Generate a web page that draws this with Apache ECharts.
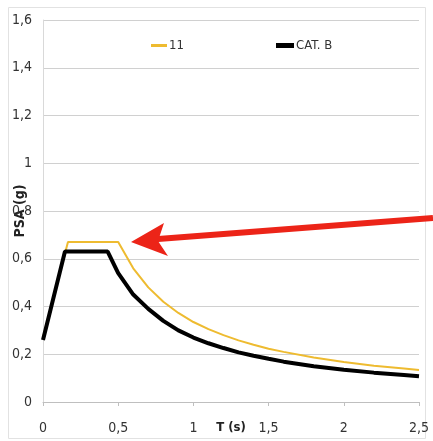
<!DOCTYPE html>
<html><head><meta charset="utf-8">
<script src="https://cdn.jsdelivr.net/npm/echarts@6/dist/echarts.min.js"></script>
<style>html,body{margin:0;padding:0;background:#fff}#c{width:433px;height:441px}</style>
</head><body><div id="c"></div>
<script>
// Data
const periods11 = [0, 0.166, 0.5, 0.6, 0.7, 0.8, 0.9, 1.0, 1.1, 1.2, 1.3, 1.4, 1.5, 1.6, 1.8, 2.0, 2.2, 2.4, 2.5];
const psa11     = [0.27, 0.67, 0.67, 0.56, 0.48, 0.42, 0.373, 0.335, 0.305, 0.28, 0.258, 0.24, 0.223, 0.21, 0.186, 0.168, 0.152, 0.14, 0.134];
const periodsB  = [0, 0.146, 0.43, 0.5, 0.6, 0.7, 0.8, 0.9, 1.0, 1.1, 1.2, 1.3, 1.4, 1.5, 1.6, 1.8, 2.0, 2.2, 2.4, 2.5];
const psaB      = [0.26, 0.63, 0.63, 0.54, 0.45, 0.39, 0.34, 0.30, 0.27, 0.246, 0.226, 0.208, 0.194, 0.181, 0.169, 0.150, 0.135, 0.123, 0.113, 0.108];
const seriesNames = ['11', 'CAT. B'];
const xTicks = [0, 0.5, 1, 1.5, 2, 2.5];
const yTicks = [0, 0.2, 0.4, 0.6, 0.8, 1, 1.2, 1.4, 1.6];

const FONT = '"Liberation Sans Narrow", "DejaVu Sans Condensed", "Liberation Sans", sans-serif';
const fmt = v => String(+(+v).toFixed(1)).replace('.', ',');
const pair = (xs, ys) => xs.map((x, i) => [x, ys[i]]);
const YEL = '#eebb30';

const chart = echarts.init(document.getElementById('c'));
chart.setOption({
  animation: false,
  backgroundColor: '#fff',
  grid: { left: 43, right: 14, top: 20, bottom: 39, containLabel: false, outerBoundsMode: 'none' },
  legend: [
    { top: 34, left: 146, itemWidth: 16, itemHeight: 3, icon: 'rect',
      textStyle: { fontFamily: FONT, fontSize: 13, color: '#333', padding: [0, 0, 0, -3] },
      data: [{ name: seriesNames[0], itemStyle: { color: YEL } }] },
    { top: 34, left: 271, itemWidth: 18, itemHeight: 5, icon: 'rect',
      textStyle: { fontFamily: FONT, fontSize: 13, color: '#333', padding: [0, 0, 0, -3] },
      data: [{ name: seriesNames[1], itemStyle: { color: '#000' } }] }
  ],
  xAxis: {
    type: 'value', min: xTicks[0], max: xTicks[xTicks.length - 1], interval: 0.5,
    name: 'T (s)', nameLocation: 'middle', nameGap: 19, nameMoveOverlap: false,
    nameTextStyle: { fontFamily: FONT, fontSize: 13, fontWeight: 'bold', color: '#222' },
    axisLine: { lineStyle: { color: '#bfbfbf' } },
    axisTick: { show: true, length: 4, inside: false, lineStyle: { color: '#bfbfbf' } },
    axisLabel: { formatter: fmt, fontFamily: FONT, fontSize: 14, color: '#333', margin: 19 },
    splitLine: { show: false }
  },
  yAxis: {
    type: 'value', min: yTicks[0], max: yTicks[yTicks.length - 1], interval: 0.2,
    name: 'PSA (g)', nameLocation: 'middle', nameGap: 16, nameRotate: 90, nameMoveOverlap: false,
    nameTextStyle: { fontFamily: FONT, fontSize: 14, fontWeight: 'bold', color: '#222', padding: [0, 0, 0, 0] },
    axisLine: { show: true, lineStyle: { color: '#d9d9d9' } },
    axisTick: { show: false },
    axisLabel: { formatter: fmt, fontFamily: FONT, fontSize: 14, color: '#333', margin: 11 },
    splitLine: { show: true, lineStyle: { color: '#d0d0d0', width: 1 } }
  },
  series: [
    { name: seriesNames[0], type: 'line', data: pair(periods11, psa11), symbol: 'none',
      lineStyle: { color: YEL, width: 2 }, itemStyle: { color: YEL }, z: 3 },
    { name: seriesNames[1], type: 'line', data: pair(periodsB, psaB), symbol: 'none',
      lineStyle: { color: '#000', width: 4 }, itemStyle: { color: '#000' }, z: 4 }
  ],
  graphic: [
    { type: 'rect', shape: { x: 8.5, y: 7.5, width: 417, height: 431 }, style: { fill: 'none', stroke: '#e2e2e2', lineWidth: 1 }, z: -1 },
    { type: 'polyline', shape: { points: [[433, 218], [145, 240]] }, style: { stroke: '#ec2418', lineWidth: 6, fill: 'none' }, z: 10 },
    { type: 'polygon', shape: { points: [[131, 242], [164, 223], [158, 241], [168, 256]] }, style: { fill: '#ec2418' }, z: 10 }
  ]
});
</script></body></html>
